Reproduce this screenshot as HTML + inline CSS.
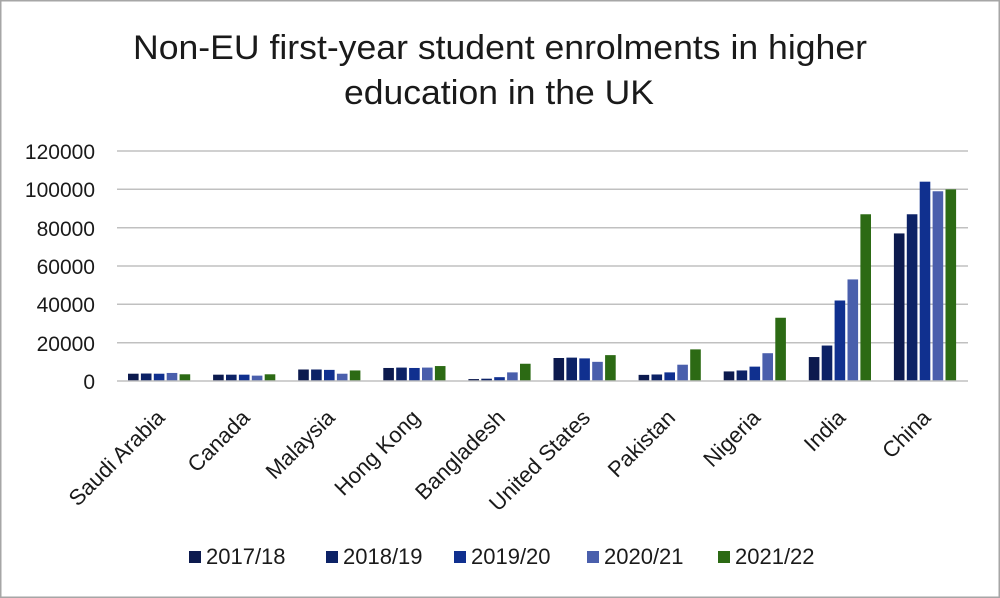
<!DOCTYPE html>
<html><head><meta charset="utf-8"><style>
html,body{margin:0;padding:0;background:#fff}
svg{display:block}
text{font-family:"Liberation Sans",sans-serif;fill:#1a1a1a}
</style></head><body>
<svg width="1000" height="598" viewBox="0 0 1000 598" xmlns="http://www.w3.org/2000/svg">
<rect x="0.75" y="0.75" width="998.5" height="596.5" fill="#fff" stroke="#a6a6a6" stroke-width="1.5"/>
<text x="500" y="59" font-size="34" text-anchor="middle" textLength="734" lengthAdjust="spacingAndGlyphs">Non-EU first-year student enrolments in higher</text>
<text x="499" y="104" font-size="34" text-anchor="middle" textLength="310" lengthAdjust="spacingAndGlyphs">education in the UK</text>
<g stroke="#c0c0c0" stroke-width="1.5">
<line x1="117" x2="968" y1="151" y2="151"/><line x1="117" x2="968" y1="189.3" y2="189.3"/><line x1="117" x2="968" y1="227.7" y2="227.7"/><line x1="117" x2="968" y1="266" y2="266"/><line x1="117" x2="968" y1="304.3" y2="304.3"/><line x1="117" x2="968" y1="342.7" y2="342.7"/>
</g>
<g font-size="21" text-anchor="end">
<text x="95" y="159">120000</text><text x="95" y="197">100000</text><text x="95" y="236">80000</text><text x="95" y="274">60000</text><text x="95" y="312">40000</text><text x="95" y="351">20000</text><text x="95" y="389">0</text>
</g>
<g id="bars"></g>
<line x1="117" x2="968" y1="381" y2="381" stroke="#c0c0c0" stroke-width="1.5"/>
<g id="labels" font-size="22" text-anchor="end"></g>
<g font-size="22">
<rect x="189" y="551" width="12" height="12" fill="#0c1a4e"/><text x="206" y="564">2017/18</text>
<rect x="326" y="551" width="12" height="12" fill="#0c2266"/><text x="343" y="564">2018/19</text>
<rect x="454" y="551" width="12" height="12" fill="#10308f"/><text x="471" y="564">2019/20</text>
<rect x="587" y="551" width="12" height="12" fill="#4a5fac"/><text x="604" y="564">2020/21</text>
<rect x="718" y="551" width="12" height="12" fill="#2c6a14"/><text x="735" y="564">2021/22</text>
</g>
</svg>
<script>
var data=[["Saudi Arabia",[3800,3900,3800,4200,3500]],["Canada",[3300,3300,3300,2800,3500]],["Malaysia",[6000,6000,5800,3800,5500]],["Hong Kong",[6800,7000,6800,7000,7800]],["Bangladesh",[1000,1200,2000,4500,9000]],["United States",[12000,12200,11800,10000,13500]],["Pakistan",[3200,3400,4500,8500,16500]],["Nigeria",[5000,5500,7500,14500,33000]],["India",[12500,18500,42000,53000,87000]],["China",[77000,87000,104000,99000,100000]]];
var cols=["#0c1a4e","#0c2266","#10308f","#4a5fac","#2c6a14"];
var ns="http://www.w3.org/2000/svg",b=document.getElementById("bars"),l=document.getElementById("labels");
data.forEach(function(d,i){var x0=128+85.1*i;
d[1].forEach(function(v,j){var h=v/20000*38.33,r=document.createElementNS(ns,"rect");
r.setAttribute("x",x0+j*12.9);r.setAttribute("width",10.6);r.setAttribute("y",381-h);r.setAttribute("height",h);r.setAttribute("fill",cols[j]);b.appendChild(r);});
var t=document.createElementNS(ns,"text"),cx=x0+31+7,cy=419;
t.setAttribute("x",cx);t.setAttribute("y",cy);t.setAttribute("transform","rotate(-45 "+cx+" "+cy+")");t.textContent=d[0];l.appendChild(t);});
</script>
</body></html>
